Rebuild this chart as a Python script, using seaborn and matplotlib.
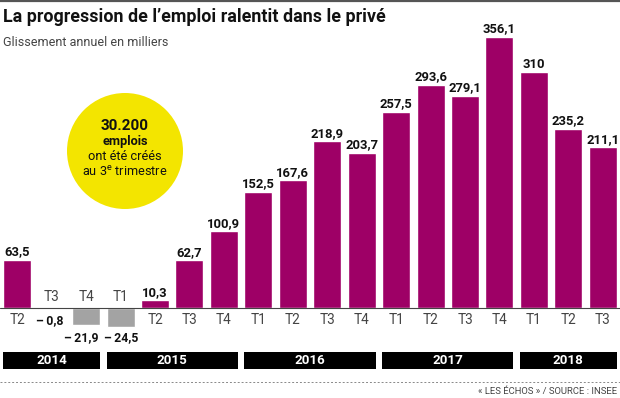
import matplotlib
matplotlib.use("Agg")
import matplotlib.pyplot as plt
import seaborn as sns
import pandas as pd
from matplotlib.patches import Ellipse, Rectangle
from matplotlib.lines import Line2D

# ---- data ----
quarters = ["T2", "T3", "T4", "T1", "T2", "T3", "T4", "T1", "T2", "T3", "T4",
            "T1", "T2", "T3", "T4", "T1", "T2", "T3"]
values = [63.5, -0.8, -21.9, -24.5, 10.3, 62.7, 100.9, 152.5, 167.6, 218.9,
          203.7, 257.5, 293.6, 279.1, 356.1, 310, 235.2, 211.1]
years = ["2014", "2015", "2016", "2017", "2018"]
quarters_per_year = [3, 4, 4, 4, 3]
title = "La progression de l’emploi ralentit dans le privé"
subtitle = "Glissement annuel en milliers"
source = "« LES ÉCHOS » / SOURCE : INSEE"
callout = ["30.200", "emplois", "ont été créés", r"au 3$^{\mathrm{e}}$ trimestre"]

# ---- style ----
sns.set_theme(style="white")
plt.rcParams["font.family"] = ["Roboto", "DejaVu Sans"]
plt.rcParams["mathtext.fontset"] = "custom"
plt.rcParams["mathtext.rm"] = "Roboto"

MAGENTA = "#9E0066"
GREY = "#A3A3A3"
W, H = 620, 398
BASE = 308.0      # baseline pixel row
K = 0.761         # px per unit


def yd(py):
    return (BASE - py) / K


year_of = []
for y, n in zip(years, quarters_per_year):
    year_of += [y] * n
df = pd.DataFrame({
    "key": [f"{y}-{q}" for y, q in zip(year_of, quarters)],
    "value": values,
    "sign": ["pos" if v >= 0 else "neg" for v in values],
})

fig = plt.figure(figsize=(W / 100, H / 100), dpi=100)
ax = fig.add_axes([0, 0, 1, 1])
sns.barplot(data=df, x="key", y="value", hue="sign",
            palette={"pos": MAGENTA, "neg": GREY}, dodge=False,
            width=0.815, legend=False, ax=ax, saturation=1)
ax.set_xlim(-0.5, len(values) - 0.5)
ax.set_ylim(yd(H), yd(0))
ax.axis("off")
ax.axhline(0, color="#444444", lw=0.8, zorder=3)

bw = 0.815 / 2


def fmt(v):
    s = f"{abs(v):g}".replace(".", ",")
    return s if v >= 0 else "\u2013\u2009" + s


for i, (q, v) in enumerate(zip(quarters, values)):
    if v >= 0:
        ax.text(i, v + 4.5 / K, fmt(v), ha="center", va="baseline",
                fontsize=9.4, fontweight="bold", color="#111111")
        ax.text(i, yd(320.5), q, ha="center", va="center",
                fontsize=9.8, color="#444444")
    else:
        ax.text(i, yd(297), q, ha="center", va="center",
                fontsize=9.8, color="#444444")
        if v > -5:
            py, dx = 321, -0.07
        else:
            py, dx = 338, (-0.13 if i == 2 else 0.02)
        ax.text(i + dx, yd(py), fmt(v), ha="center", va="center",
                fontsize=8.8, fontweight="bold", color="#111111")

# year bands
start = 0
for y, n in zip(years, quarters_per_year):
    x0 = start - bw
    x1 = start + n - 1 + bw
    ax.add_patch(Rectangle((x0, yd(369)), x1 - x0, yd(352) - yd(369),
                           facecolor="black", edgecolor="none", zorder=2))
    ax.text((x0 + x1) / 2, yd(360.5), y, ha="center", va="center",
            color="white", fontsize=9.6, fontweight="bold", zorder=3)
    start += n

# dotted separator and source
fig.add_artist(Line2D([0, 1], [1 - 382 / H] * 2, color="#888888", lw=0.7,
                      linestyle=(0, (2, 2))))
fig.text(617 / W, 1 - 392 / H, source, ha="right", va="center",
         fontsize=6.8, color="#444444")

# top border
fig.add_artist(Line2D([0, 1], [1 - 0.8 / H] * 2, color="#555555", lw=1.6))

# title
fig.text(3 / W, 1 - 17 / H, title, ha="left", va="center",
         fontsize=12.9, fontweight="bold", color="#111111")
fig.text(3 / W, 1 - 42 / H, subtitle, ha="left", va="center",
         fontsize=9, color="#444444")

# yellow callout
cx, cy, r = 125, 151, 58
fig.add_artist(Ellipse((cx / W, 1 - cy / H), 2 * r / W, 2 * r / H,
                       facecolor="#F3E500", edgecolor="none"))
fig.text(cx / W, 1 - 126 / H, callout[0], ha="center", va="center",
         fontsize=11, fontweight="bold", color="#111111")
fig.text(cx / W, 1 - 142 / H, callout[1], ha="center", va="center",
         fontsize=9.2, fontweight="bold", color="#111111")
fig.text(cx / W, 1 - 157 / H, callout[2], ha="center", va="center",
         fontsize=9.2, color="#111111")
fig.text(cx / W, 1 - 172 / H, callout[3], ha="center", va="center",
         fontsize=9.2, color="#111111")

fig.savefig("out.png", dpi=100, facecolor="white")
